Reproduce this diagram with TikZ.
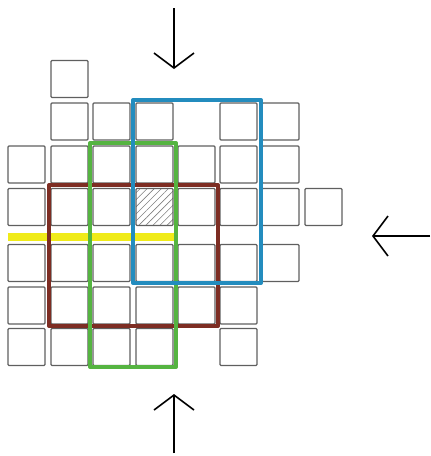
\documentclass[tikz,border=0pt]{standalone}
\usetikzlibrary{arrows.meta,patterns.meta}
\definecolor{cellgray}{RGB}{95,95,95}
\definecolor{bbrown}{RGB}{125,45,35}
\definecolor{ggreen}{RGB}{85,180,65}
\definecolor{bblue}{RGB}{35,140,190}
\definecolor{yyellow}{RGB}{240,235,25}
\tikzset{
  cell/.style={draw=cellgray, line width=1.1pt, minimum size=37pt, inner sep=0pt, rounded corners=1pt},
  hatched/.style={cell, pattern={Lines[angle=45,distance=5pt,line width=0.6pt]}, pattern color=gray},
  frame/.style={line width=4pt, line join=round},
  bigarrow/.style={line width=1.6pt, -{Straight Barb[length=15pt,width=40pt,line width=1.6pt]}}
}
\begin{document}
\begin{tikzpicture}[x=1pt,y=-1pt]
\useasboundingbox (0,0) rectangle (431,456);
% column centers
\def\cA{26.5}\def\cB{69.5}\def\cC{111.5}\def\cD{154.5}\def\cE{196.5}\def\cF{238.5}\def\cG{280.5}\def\cH{323.5}
% row centers
\def\rA{79}\def\rB{121.5}\def\rC{164.5}\def\rD{207}\def\rE{263}\def\rF{305.5}\def\rG{347}
% yellow line (beneath)
\coordinate (yl) at (8,237);
\coordinate (yr) at (175,237);
\draw[yyellow, line width=8pt] (yl) -- (yr);
% cells
\node[cell] (r0c1) at (\cB,\rA) {};
\foreach \c/\n in {\cB/1,\cC/2,\cD/3,\cF/5,\cG/6} \node[cell] (r1c\n) at (\c,\rB) {};
\foreach \c/\n in {\cA/0,\cB/1,\cC/2,\cD/3,\cE/4,\cF/5,\cG/6} \node[cell] (r2c\n) at (\c,\rC) {};
\foreach \c/\n in {\cA/0,\cB/1,\cC/2,\cE/4,\cF/5,\cG/6,\cH/7} \node[cell] (r3c\n) at (\c,\rD) {};
\node[hatched] (r3c3) at (\cD,\rD) {};
\foreach \c/\n in {\cA/0,\cB/1,\cC/2,\cD/3,\cE/4,\cF/5,\cG/6} \node[cell] (r4c\n) at (\c,\rE) {};
\foreach \c/\n in {\cA/0,\cB/1,\cC/2,\cD/3,\cE/4,\cF/5} \node[cell] (r5c\n) at (\c,\rF) {};
\foreach \c/\n in {\cA/0,\cB/1,\cC/2,\cD/3,\cF/5} \node[cell] (r6c\n) at (\c,\rG) {};
% coloured frames
\draw[frame, bbrown] (49,185) rectangle (218,326);
\draw[frame, ggreen] (90,143) rectangle (176,367);
\draw[frame, bblue] (133,100) rectangle (261,283);
% arrows
\coordinate (tA) at (174,8);
\coordinate (tB) at (174,69);
\coordinate (bA) at (174,453);
\coordinate (bB) at (174,394);
\coordinate (rA) at (430,236);
\coordinate (rB) at (372,236);
\draw[bigarrow] (tA) -- (tB);
\draw[bigarrow] (bA) -- (bB);
\draw[bigarrow] (rA) -- (rB);
\end{tikzpicture}
\end{document}
